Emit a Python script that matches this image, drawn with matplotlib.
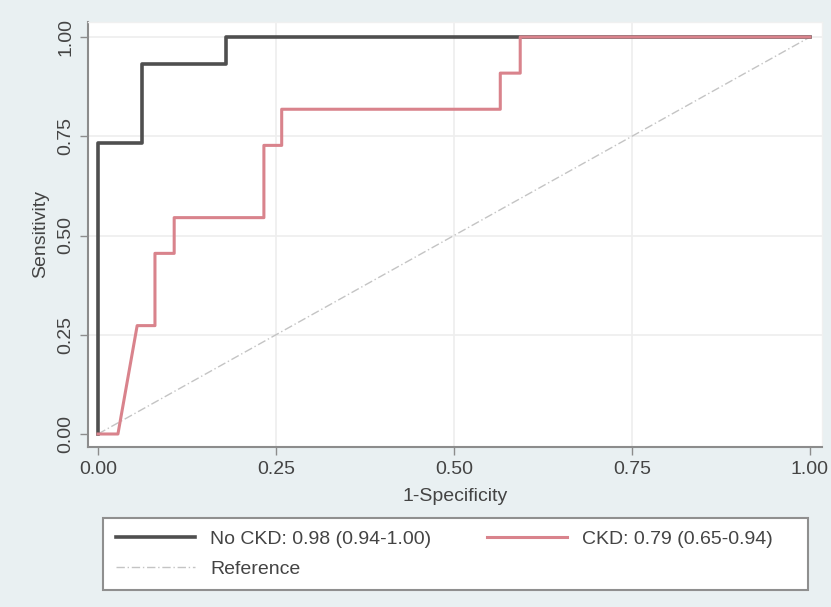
import matplotlib
matplotlib.use("Agg")
import matplotlib.pyplot as plt
from matplotlib.patches import Rectangle

# Data
nockd_x = [0.0, 0.0, 0.062, 0.062, 0.180, 0.180, 1.0]
nockd_y = [0.0, 0.733, 0.733, 0.933, 0.933, 1.0, 1.0]
ckd_x = [0.0, 0.028, 0.055, 0.080, 0.080, 0.107, 0.107, 0.233, 0.233, 0.258, 0.258, 0.565, 0.565, 0.593, 0.593, 1.0]
ckd_y = [0.0, 0.0, 0.273, 0.273, 0.455, 0.455, 0.545, 0.545, 0.727, 0.727, 0.818, 0.818, 0.909, 0.909, 1.0, 1.0]
ref_x = [0.0, 1.0]
ref_y = [0.0, 1.0]
ticks = [0.0, 0.25, 0.5, 0.75, 1.0]
tick_labels = ["0.00", "0.25", "0.50", "0.75", "1.00"]
labels = ["No CKD: 0.98 (0.94-1.00)", "Reference", "CKD: 0.79 (0.65-0.94)"]

plt.rcParams['font.family'] = ['Liberation Sans', 'DejaVu Sans']

W, H = 831, 607
fig = plt.figure(figsize=(W / 100, H / 100), dpi=100)
fig.patch.set_facecolor('#e9f0f2')

ax = fig.add_axes([88 / W, (H - 447) / H, (822 - 88) / W, (447 - 22) / H])
ax.set_facecolor('white')

ax.set_xlim(-10 / 712, 1 + 12 / 712)
ax.set_ylim(-13 / 397, 1 + 15 / 397)

for t in [0.25, 0.5, 0.75]:
    ax.axvline(t, color='#eeeeee', lw=1.2, zorder=0)
for t in [0.25, 0.5, 0.75, 1.0]:
    ax.axhline(t, color='#eeeeee', lw=1.2, zorder=0)

l1, = ax.plot(nockd_x, nockd_y, color='#4f4f4f', lw=2.6, zorder=2)
l3, = ax.plot(ckd_x, ckd_y, color='#d9838c', lw=2.2, zorder=3)
l2, = ax.plot(ref_x, ref_y, color='#c4c4c4', lw=1.0, dashes=[6, 2, 1, 2], zorder=1)

ax.set_xticks(ticks)
ax.set_xticklabels(tick_labels)
ax.set_yticks(ticks)
ax.set_yticklabels(tick_labels, rotation=90, va='center')
ax.tick_params(axis='both', direction='out', length=6, width=1, color='#8c8c8c',
               labelsize=14, labelcolor='#444444', pad=4)

for s in ['top', 'right']:
    ax.spines[s].set_color('#f0f0f0')
    ax.spines[s].set_linewidth(1)
for s in ['left', 'bottom']:
    ax.spines[s].set_color('#8c8c8c')
    ax.spines[s].set_linewidth(1.5)

ax.set_xlabel('1-Specificity', fontsize=14, color='#444444', labelpad=7)
ax.set_ylabel('Sensitivity', fontsize=14, color='#444444', labelpad=6)

# legend frame drawn as a figure rectangle
frame = Rectangle((103 / W, 1 - 590 / H), (808 - 103) / W, (590 - 518) / H,
                  transform=fig.transFigure, facecolor='white', edgecolor='#8f8f8f',
                  linewidth=1.5, zorder=0)
fig.patches.append(frame)

leg = fig.legend([l1, l2, l3], labels, ncol=2,
                 loc='upper left', bbox_to_anchor=(103 / W, 1 - 518 / H),
                 borderaxespad=0, frameon=False,
                 fontsize=14, handlelength=4.1,
                 columnspacing=2.9, handletextpad=0.75, labelspacing=0.6,
                 borderpad=0.65, labelcolor='#444444')

fig.savefig('out.png', dpi=100, facecolor=fig.get_facecolor())
